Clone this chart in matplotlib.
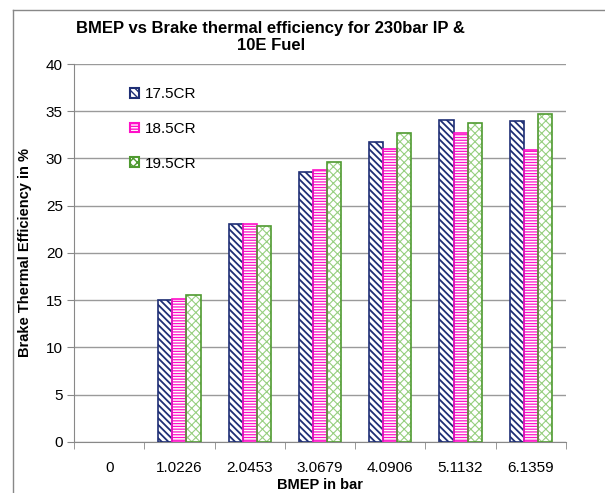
import numpy as np
import matplotlib
matplotlib.use("Agg")
import matplotlib.pyplot as plt
from matplotlib.lines import Line2D
from matplotlib.patches import Patch

plt.rcParams["font.family"] = ["Liberation Sans", "DejaVu Sans"]

bmep = ["0", "1.0226", "2.0453", "3.0679", "4.0906", "5.1132", "6.1359"]
cr_175 = [0, 15.0, 23.1, 28.6, 31.8, 34.1, 34.0]
cr_185 = [0, 15.1, 23.1, 28.8, 31.0, 32.7, 30.9]
cr_195 = [0, 15.5, 22.8, 29.6, 32.7, 33.8, 34.7]

# name, values, outline colour, hatch colour, hatch pattern, hatch width
series = [
    ("17.5CR", cr_175, "#1f2f75", "#1f2f75", "\\\\\\\\\\", 1.3),
    ("18.5CR", cr_185, "#ff10c8", "#ff10c8", "------", 0.9),
    ("19.5CR", cr_195, "#4f9a30", "#97cf80", "xxxx", 0.8),
]

fig = plt.figure(figsize=(6.05, 4.93), dpi=100)
ax = fig.add_axes([0.1223, 0.104, 0.8132, 0.766])

x = np.arange(len(bmep))
width = 0.2
handles = []
for i, (name, vals, edge, hcol, hatch, hlw) in enumerate(series):
    pos = x + (i - 1) * width
    lw = [0 if v == 0 else 1.2 for v in vals]
    with plt.rc_context({"hatch.linewidth": hlw}):
        # hatched fill first, then a plain outline on top
        ax.bar(pos, vals, width, facecolor="white", edgecolor=hcol,
               hatch=hatch, linewidth=0, zorder=3)
        handles.append(Patch(facecolor="white", edgecolor=edge, hatch=hatch,
                             linewidth=1.5, label=name))
    ax.bar(pos, vals, width, fill=False, edgecolor=edge, linewidth=lw,
           zorder=4)

ax.set_xlim(-0.5, len(bmep) - 0.5)
ax.set_ylim(0, 40)
ax.set_yticks(np.arange(0, 41, 5))
ax.set_xticks(x)
ax.set_xticklabels(bmep)
ax.set_xticks(np.arange(-0.5, len(bmep), 1), minor=True)
ax.tick_params(axis="x", which="major", length=0, pad=14, labelsize=11)
ax.tick_params(axis="x", which="minor", length=5, color="#888888")
ax.tick_params(axis="y", length=5, color="#888888", labelsize=11, pad=3)

ax.yaxis.grid(True, color="#9a9a9a", linewidth=1.0, zorder=0)
ax.set_axisbelow(True)
for s in ["top", "right"]:
    ax.spines[s].set_visible(False)
for s in ["left", "bottom"]:
    ax.spines[s].set_color("#888888")

ax.set_xlabel("BMEP in bar", fontsize=10.5, fontweight="bold", labelpad=2)
ax.set_ylabel("Brake Thermal Efficiency in %", fontsize=10.5,
              fontweight="bold", labelpad=10)
ax.set_title("BMEP vs Brake thermal efficiency for 230bar IP &\n10E Fuel",
             fontsize=12, fontweight="bold", pad=10, x=0.40, linespacing=1.15)

ax.legend(handles=handles, loc="upper left", bbox_to_anchor=(0.085, 0.975),
          frameon=False, fontsize=11, handlelength=0.6, handleheight=0.6,
          labelspacing=1.35, handletextpad=0.4)

# chart area border (left and top edges)
fig.add_artist(Line2D([13 / 605, 13 / 605], [0, 1 - 10 / 493],
                      transform=fig.transFigure, color="#888888", lw=1))
fig.add_artist(Line2D([13 / 605, 1], [1 - 10 / 493, 1 - 10 / 493],
                      transform=fig.transFigure, color="#888888", lw=1))

fig.savefig("out.png", dpi=100)
